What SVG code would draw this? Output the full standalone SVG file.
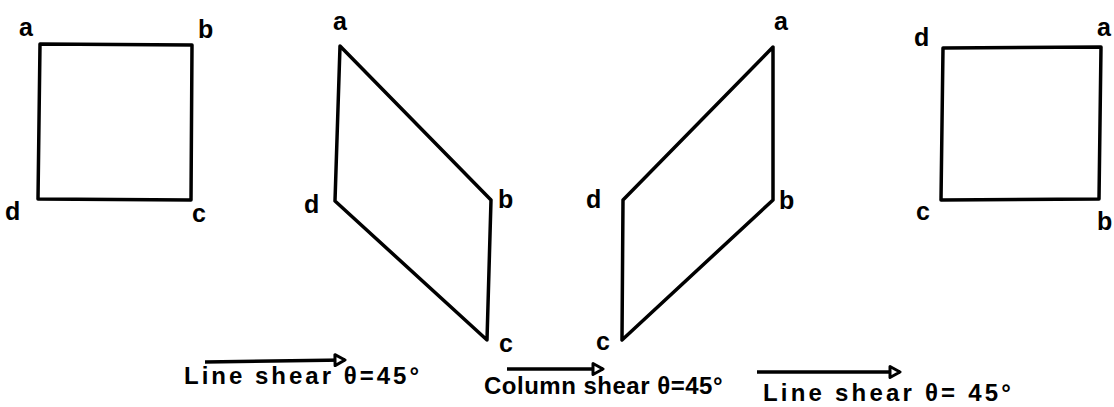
<svg xmlns="http://www.w3.org/2000/svg" width="1114" height="407" viewBox="0 0 1114 407">
<style>
.shape{fill:none;stroke:#000;stroke-width:3.5;stroke-linejoin:round}
.lbl{font-family:"Liberation Sans",Arial,sans-serif;font-size:25px;font-weight:bold;fill:#000}
.cap{font-family:"Liberation Sans",Arial,sans-serif;font-size:24px;font-weight:bold;fill:#000}
.conn{stroke:#000;stroke-width:3.5;fill:none}
</style>
<defs>
<marker id="ah" viewBox="0 0 14 14" refX="12" refY="7" markerWidth="14" markerHeight="14" markerUnits="userSpaceOnUse" orient="auto">
<path d="M2,1.5 L12,7 L2,12.5 Z" fill="#fff" stroke="#000" stroke-width="3" stroke-linejoin="round"/>
</marker>
</defs>
<rect width="1114" height="407" fill="#fff"/>
<g id="square1">
<polygon class="shape" points="40,44 192,45 191,200 38,199"/>
<text class="lbl" x="19" y="36">a</text>
<text class="lbl" x="198" y="38">b</text>
<text class="lbl" x="5" y="220">d</text>
<text class="lbl" x="192" y="222">c</text>
</g>
<g id="parallelogram1">
<polygon class="shape" points="340,46 491,200 487,340 335,201"/>
<text class="lbl" x="333" y="30">a</text>
<text class="lbl" x="498" y="208">b</text>
<text class="lbl" x="304" y="213">d</text>
<text class="lbl" x="499" y="352">c</text>
</g>
<g id="parallelogram2">
<polygon class="shape" points="773,47 773,200 622,340 623,200"/>
<text class="lbl" x="774" y="30">a</text>
<text class="lbl" x="779" y="209">b</text>
<text class="lbl" x="586" y="208">d</text>
<text class="lbl" x="596" y="350">c</text>
</g>
<g id="square2">
<polygon class="shape" points="943,48 1101,47 1099,199 941,200"/>
<text class="lbl" x="914" y="46">d</text>
<text class="lbl" x="1097" y="36">a</text>
<text class="lbl" x="916" y="220">c</text>
<text class="lbl" x="1097" y="230">b</text>
</g>
<g id="connectors">
<line class="conn" x1="205" y1="362" x2="345" y2="360" marker-end="url(#ah)"/>
<line class="conn" x1="507" y1="369" x2="603" y2="369" marker-end="url(#ah)"/>
<line class="conn" x1="757" y1="372" x2="900" y2="372" marker-end="url(#ah)"/>
</g>
<g id="captions">
<text class="cap" x="184" y="384" letter-spacing="3">Line shear θ=45°</text>
<text class="cap" x="484" y="394" letter-spacing="0.5">Column shear θ=45°</text>
<text class="cap" x="763" y="401" letter-spacing="3.2">Line shear θ= 45°</text>
</g>
</svg>
